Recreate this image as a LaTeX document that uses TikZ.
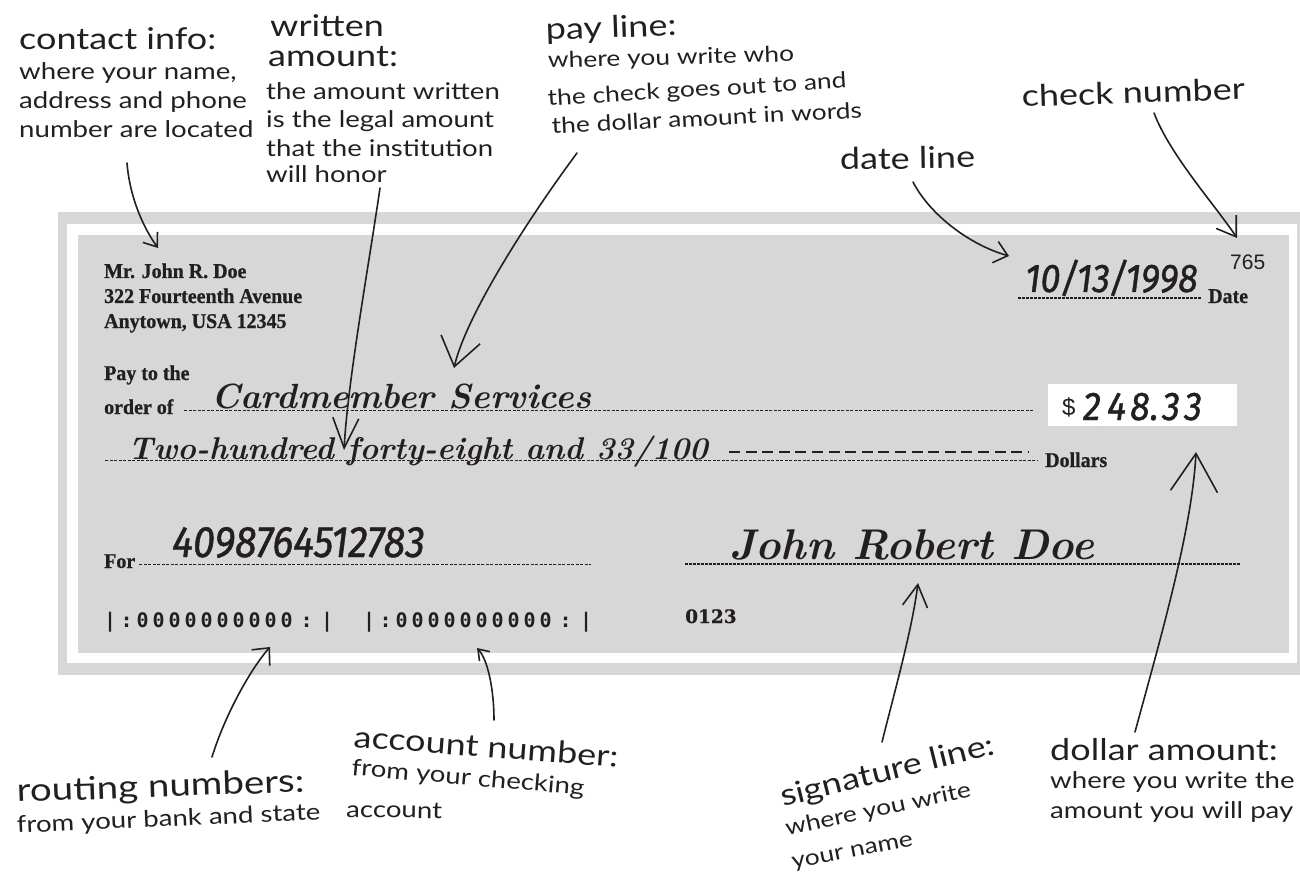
\documentclass[tikz,border=0pt]{standalone}
\usepackage{fontspec}
\usetikzlibrary{arrows.meta}
\newfontfamily\handf[FakeStretch=1.2]{Lato}
\newfontfamily\slabf[FakeStretch=0.95,FakeBold=0.8]{Liberation Serif}
\newfontfamily\slabg[FakeBold=0.6]{DejaVu Serif}
\newfontfamily\digf[FakeStretch=0.9,FakeBold=1]{Fira Sans}
\newfontfamily\micrf{DejaVu Sans Mono}
\newfontfamily\numf{Liberation Sans}
\definecolor{ink}{HTML}{231F20}
\definecolor{chk}{HTML}{D7D7D7}
\newcommand\mzero{\makebox[16pt]{0}}
\newcommand\micrline{\makebox[17pt]{|}\makebox[16pt]{:}\mzero\mzero\mzero\mzero\mzero\mzero\mzero\mzero\mzero\mzero\makebox[24pt]{:}\makebox[17pt]{|}}
\tikzset{
 big/.style={anchor=base west, inner sep=0pt, text=ink, font=\handf\fontsize{30}{36}\selectfont},
 small/.style={anchor=base west, inner sep=0pt, text=ink, font=\handf\fontsize{23}{28}\selectfont},
 smaller/.style={anchor=base west, inner sep=0pt, text=ink, font=\handf\fontsize{22}{26}\selectfont},
 slab/.style={anchor=base west, inner sep=0pt, text=ink, font=\slabf\bfseries\fontsize{21}{24}\selectfont},
 scr/.style={anchor=base west, inner sep=0pt, text=ink, font=\rmfamily\bfseries\itshape\fontsize{35}{40}\selectfont},
 dig/.style={anchor=base west, inner sep=0pt, text=ink, font=\digf\itshape\fontsize{40}{44}\selectfont},
 micr/.style={anchor=base west, inner sep=0pt, text=ink, font=\micrf\bfseries\fontsize{20}{24}\selectfont},
 arr/.style={draw=ink, line width=1.6pt, line cap=round},
 fine/.style={draw=ink, line width=1pt, dash pattern=on 3pt off 1.5pt},
 heavy/.style={draw=ink, line width=2pt, dash pattern=on 3pt off 1pt},
 bigdash/.style={draw=ink, line width=1.8pt, dash pattern=on 11pt off 5.6pt},
}
\begin{document}
\begin{tikzpicture}[x=1pt,y=-1pt]
\useasboundingbox (0,0) rectangle (1300,874);
% check frame
\fill[chk] (58,212) rectangle (1300,675);
\fill[white] (67,224) rectangle (1297,663);
\fill[chk] (78,235) rectangle (1289,653);
\fill[white] (1048,384) rectangle (1237,426);

% check printed text
\node[slab] (name) at (104,278) {Mr. John R. Doe};
\node[slab] (addr) at (104,303) {322 Fourteenth Avenue};
\node[slab] (town) at (104,328) {Anytown, USA 12345};
\node[slab] (payto) at (104,380) {Pay to the};
\node[slab] (order) at (104,414) {order of};
\node[slab] (dollars) at (1045,467) {Dollars};
\node[slab] (datelbl) at (1208,303) {Date};
\node[slab] (for) at (104,568) {For};
\node[anchor=base west, inner sep=0pt, text=ink, font=\numf\fontsize{21}{24}\selectfont] (cnum) at (1230,270) {765};
\node[anchor=base west, inner sep=0pt, text=ink, font=\slabg\bfseries\fontsize{18.5}{22}\selectfont] (code) at (685,623) {0123};
\node[micr] (micr1) at (101.5,627) {\micrline};
\node[micr] (micr2) at (360.5,627) {\micrline};

% lines
\draw[fine] (184,410) -- (1034,410);
\draw[fine] (105,460) -- (1037,460);
\draw[bigdash] (729,452) -- (1028,452);
\draw[fine] (139,564) -- (591,564);
\draw[heavy] (685,564) -- (1241,564);
\draw[heavy] (1018,298) -- (1202,298);

% handwritten fill-ins
\node[scr] (payee) at (211,408) {Cardmember Services};
\node[scr, font=\rmfamily\bfseries\itshape\fontsize{31.5}{36}\selectfont] (words) at (128,459) {Two-hundred forty-eight and 33/100};
\node[scr, font=\rmfamily\bfseries\itshape\fontsize{43}{48}\selectfont] (sig) at (729,559) {John Robert Doe};
\node[dig] (date) at (1025,292) {10/13/1998};
\node[dig, font=\digf\itshape\fontsize{44}{48}\selectfont] (memo) at (172,557) {4098764512783};
\node[anchor=base west, inner sep=0pt, text=ink, font=\numf\fontsize{24}{26}\selectfont] (dsign) at (1062,415) {\$};
\node[dig] (amt) at (1083,420) {\makebox[24pt][l]{2}\makebox[23pt][l]{4}\makebox[20pt][l]{8}\makebox[12pt][l]{.}\makebox[22pt][l]{3}3};

% annotation labels
\node[big] (c1) at (19,50) {contact info:};
\node[small] (c2) at (19,80) {where your name,};
\node[small] (c3) at (19,109) {address and phone};
\node[small] (c4) at (19,138) {number are located};

\node[big] (w1) at (270,37) {written};
\node[big] (w2) at (268,67) {amount:};
\node[small] (w3) at (266,100) {the amount written};
\node[small] (w4) at (266,128) {is the legal amount};
\node[small] (w5) at (266,157) {that the institution};
\node[small] (w6) at (266,183) {will honor};

\node[big, rotate=2] (p1) at (546,40) {pay line:};
\node[smaller, rotate=1.5] (p2) at (548,68) {where you write who};
\node[smaller, rotate=3.5] (p3) at (548,106) {the check goes out to and};
\node[smaller, rotate=3] (p4) at (552,134) {the dollar amount in words};

\node[big, rotate=2] (q1) at (1022,107) {check number};
\node[big, rotate=1] (d1) at (840,170) {date line};

\node[big, rotate=2, font=\handf\fontsize{32}{36}\selectfont] (r1) at (17,802) {routing numbers:};
\node[small, rotate=2.5] (r2) at (17,833) {from your bank and state};

\node[big, rotate=-4.4] (a1) at (353,747) {account number:};
\node[small, rotate=-5] (a2) at (351,775) {from your checking};
\node[small, rotate=-1] (a3) at (346,817) {account};

\node[big, rotate=14] (s1) at (783,807) {signature line:};
\node[smaller, rotate=12] (s2) at (787,836) {where you write};
\node[smaller, rotate=11] (s3) at (793,869) {your name};

\node[big] (da1) at (1050,760) {dollar amount:};
\node[small] (da2) at (1050,788) {where you write the};
\node[small] (da3) at (1050,818) {amount you will pay};

% arrows
\coordinate (ca) at (127,163); \coordinate (ta) at (158,248);
\coordinate (cw) at (380,188); \coordinate (tw) at (344,450);
\coordinate (cp) at (577,153); \coordinate (tp) at (454,368);
\coordinate (cd) at (913,182); \coordinate (td) at (1009,256);
\coordinate (cc) at (1154,113); \coordinate (tc) at (1237,238);
\coordinate (cr) at (212,757); \coordinate (tr) at (270,647);
\coordinate (cn) at (494,720); \coordinate (tn) at (477,648);
\coordinate (cs) at (882,742); \coordinate (ts) at (918,583);
\coordinate (cm) at (1135,732); \coordinate (tm) at (1196,452);

\draw[arr, -{Straight Barb[length=12pt,width=18pt]}] (ca) .. controls (130,200) and (145,230) .. (ta);
\draw[arr, -{Straight Barb[length=30pt,width=26pt]}] (cw) .. controls (368,270) and (348,380) .. (tw);
\draw[arr, -{Straight Barb[length=28pt,width=40pt]}] (cp) .. controls (520,230) and (465,320) .. (tp);
\draw[arr, -{Straight Barb[length=13pt,width=22pt]}] (cd) .. controls (930,215) and (970,245) .. (td);
\draw[arr, -{Straight Barb[length=18pt,width=24pt]}] (cc) .. controls (1170,155) and (1215,205) .. (tc);
\draw[arr, -{Straight Barb[length=13pt,width=24pt]}] (cr) .. controls (225,715) and (250,670) .. (tr);
\draw[arr, -{Straight Barb[length=10pt,width=14pt]}] (cn) .. controls (494,690) and (488,660) .. (tn);
\draw[arr, -{Straight Barb[length=22pt,width=25pt]}] (cs) .. controls (895,690) and (912,630) .. (ts);
\draw[arr, -{Straight Barb[length=38pt,width=47pt]}] (cm) .. controls (1160,640) and (1192,530) .. (tm);
\end{tikzpicture}
\end{document}
